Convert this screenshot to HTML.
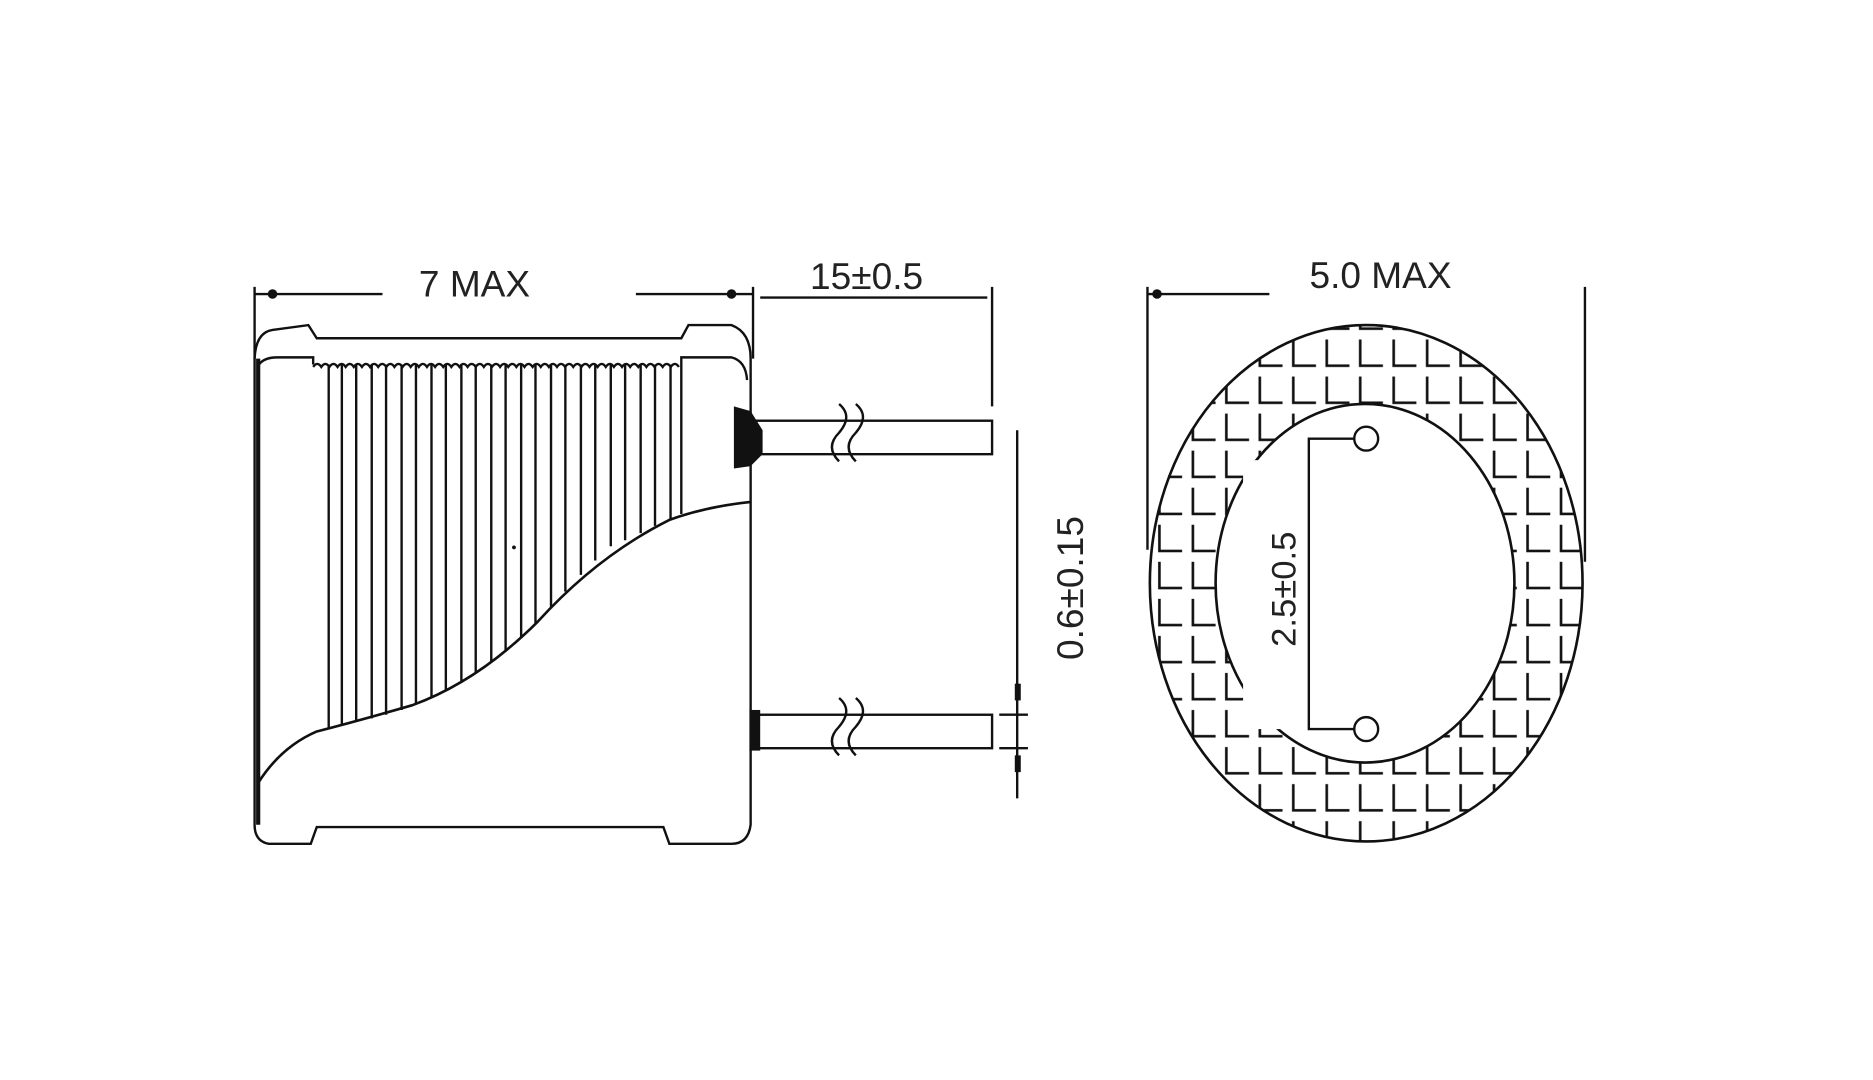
<!DOCTYPE html>
<html><head><meta charset="utf-8"><style>html,body{margin:0;padding:0;background:#fff}svg{display:block}</style></head><body>
<svg width="1873" height="1080" viewBox="0 0 1567 903.6" preserveAspectRatio="none" xmlns="http://www.w3.org/2000/svg">
<defs>
<pattern id="L" x="965" y="280" width="28" height="31" patternUnits="userSpaceOnUse">
<path d="M5 4 V26 H24" fill="none" stroke="#111" stroke-width="2.2"/>
</pattern>
<clipPath id="ann"><path clip-rule="evenodd" d="M962 488 a181 216 0 1 0 362 0 a181 216 0 1 0 -362 0 Z M1017 488 a125 150 0 1 0 250 0 a125 150 0 1 0 -250 0 Z"/></clipPath>
</defs>
<g fill="none" stroke="#111" stroke-width="2">
<line x1="213" y1="246" x2="320" y2="246"/><line x1="532" y1="246" x2="630" y2="246"/>
<line x1="213" y1="240" x2="213" y2="300"/><line x1="630" y1="240" x2="630" y2="300"/>
<line x1="636" y1="249" x2="826" y2="249"/><line x1="830" y1="240" x2="830" y2="340"/>
<path d="M213 300 Q214 278 228 276 L258 272 L265 283 L570 283 L576 272 L612 272 Q628 278 628 300 L628 690 Q626 706 612 706 L560 706 L555 692 L265 692 L260 706 L225 706 Q213 704 213 690 Z"/>
<line x1="216" y1="300" x2="216" y2="690" stroke-width="3.5"/>
<path d="M216 306 Q220 299 232 299 L262 299 L262 305"/>
<path d="M570 305 L570 299 L612 299 Q624 302 625 318"/>
<path d="M262 307 q3.4 -5 6.8 0 q3.4 -5 6.8 0 q3.4 -5 6.8 0 q3.4 -5 6.8 0 q3.4 -5 6.8 0 q3.4 -5 6.8 0 q3.4 -5 6.8 0 q3.4 -5 6.8 0 q3.4 -5 6.8 0 q3.4 -5 6.8 0 q3.4 -5 6.8 0 q3.4 -5 6.8 0 q3.4 -5 6.8 0 q3.4 -5 6.8 0 q3.4 -5 6.8 0 q3.4 -5 6.8 0 q3.4 -5 6.8 0 q3.4 -5 6.8 0 q3.4 -5 6.8 0 q3.4 -5 6.8 0 q3.4 -5 6.8 0 q3.4 -5 6.8 0 q3.4 -5 6.8 0 q3.4 -5 6.8 0 q3.4 -5 6.8 0 q3.4 -5 6.8 0 q3.4 -5 6.8 0 q3.4 -5 6.8 0 q3.4 -5 6.8 0 q3.4 -5 6.8 0 q3.4 -5 6.8 0 q3.4 -5 6.8 0 q3.4 -5 6.8 0 q3.4 -5 6.8 0 q3.4 -5 6.8 0 q3.4 -5 6.8 0 q3.4 -5 6.8 0 q3.4 -5 6.8 0 q3.4 -5 6.8 0 q3.4 -5 6.8 0 q3.4 -5 6.8 0 q3.4 -5 6.8 0 q3.4 -5 6.8 0 q3.4 -5 6.8 0 q3.4 -5 6.8 0"/>
<path d="M216 655 Q235 625 265 612 Q300 603 345 590 Q400 570 450 520 Q500 465 560 435 Q590 424 628 420" stroke-width="2.2"/>
<g>
<line x1="275" y1="305" x2="275" y2="610"/><line x1="286" y1="305" x2="286" y2="607"/><line x1="298" y1="305" x2="298" y2="604"/>
<line x1="311" y1="305" x2="311" y2="601"/><line x1="323" y1="305" x2="323" y2="598"/><line x1="336" y1="305" x2="336" y2="594"/>
<line x1="348" y1="305" x2="348" y2="589"/><line x1="361" y1="305" x2="361" y2="584"/><line x1="373" y1="305" x2="373" y2="578"/>
<line x1="386" y1="305" x2="386" y2="571"/><line x1="398" y1="305" x2="398" y2="563"/><line x1="411" y1="305" x2="411" y2="554"/>
<line x1="423" y1="305" x2="423" y2="545"/><line x1="436" y1="305" x2="436" y2="534"/><line x1="448" y1="305" x2="448" y2="522"/>
<line x1="461" y1="305" x2="461" y2="509"/><line x1="473" y1="305" x2="473" y2="495"/><line x1="486" y1="305" x2="486" y2="481"/>
<line x1="498" y1="305" x2="498" y2="469"/><line x1="511" y1="305" x2="511" y2="457"/><line x1="523" y1="305" x2="523" y2="452"/>
<line x1="536" y1="305" x2="536" y2="446"/><line x1="548" y1="305" x2="548" y2="440"/><line x1="561" y1="305" x2="561" y2="435"/>
<line x1="570" y1="305" x2="570" y2="430"/>
</g>
<rect x="632" y="352" width="198" height="28"/>
<rect x="632" y="598" width="198" height="28"/>
<path d="M702 338 q12 10 0 24 q-12 12 0 24 M716 338 q12 10 0 24 q-12 12 0 24"/>
<path d="M702 584 q12 10 0 24 q-12 12 0 24 M716 584 q12 10 0 24 q-12 12 0 24"/>
<line x1="851" y1="360" x2="851" y2="668"/>
<line x1="836" y1="598" x2="860" y2="598"/><line x1="836" y1="626" x2="860" y2="626"/>
</g>
<g fill="#111">
<circle cx="228" cy="246" r="4"/><circle cx="612" cy="246" r="4"/>
<path d="M614 340 L628 344 L638 360 L638 380 L628 390 L614 392 Z"/>
<rect x="627" y="594" width="9" height="34"/>
<rect x="849" y="572" width="5" height="14"/><rect x="849" y="632" width="5" height="14"/>
<circle cx="430" cy="458" r="1.6"/>
</g>
<rect x="962" y="272" width="362" height="432" fill="url(#L)" clip-path="url(#ann)"/>
<g fill="none" stroke="#111" stroke-width="2.2">
<ellipse cx="1143" cy="488" rx="181" ry="216"/>
<ellipse cx="1142" cy="488" rx="125" ry="150"/>
</g>
<rect x="1040" y="385" width="55" height="225" fill="#fff"/>
<g fill="none" stroke="#111" stroke-width="2">
<line x1="960" y1="246" x2="1062" y2="246"/>
<line x1="960" y1="240" x2="960" y2="460"/><line x1="1326" y1="240" x2="1326" y2="470"/>
<circle cx="1143" cy="367" r="10"/><circle cx="1143" cy="610" r="10"/>
<path d="M1133 367 L1095 367 L1095 610 L1133 610"/>
</g>
<circle cx="968" cy="246" r="4" fill="#111"/>
<g font-family="Liberation Sans, sans-serif" fill="#222">
<text x="397" y="248" font-size="31" text-anchor="middle">7 MAX</text>
<text x="725" y="242" font-size="31" text-anchor="middle">15±0.5</text>
<text x="1155" y="241" font-size="31" text-anchor="middle">5.0 MAX</text>
<text transform="translate(906,492) rotate(-90)" font-size="31" text-anchor="middle">0.6±0.15</text>
<text transform="translate(1084,493) rotate(-90)" font-size="29" text-anchor="middle">2.5±0.5</text>
</g>
</svg>
</body></html>
